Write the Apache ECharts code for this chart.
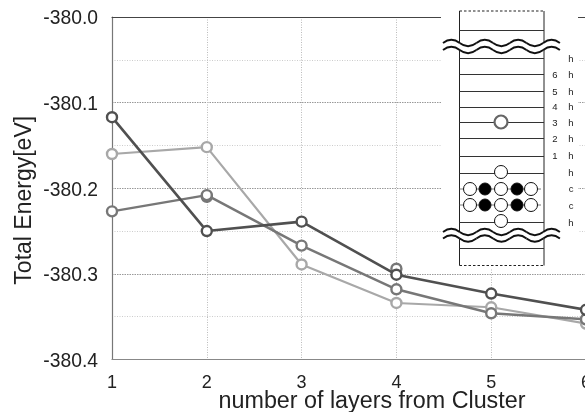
<!DOCTYPE html>
<html><head><meta charset="utf-8">
<style>html,body{margin:0;padding:0;background:#fff;overflow:hidden}#c{width:585px;height:412px}</style>
<script src="https://cdn.jsdelivr.net/npm/echarts@6/dist/echarts.min.js"></script>
</head><body><div id="c"></div>
<script>
const layers = [1, 2, 3, 4, 5, 6];
const darkSeries = [-380.117, -380.250, -380.239, -380.301, -380.323, -380.342];
const mediumSeries = [-380.227, -380.208, -380.267, -380.318, -380.346, -380.353];
const lightSeries = [-380.160, -380.152, -380.289, -380.334, -380.339, -380.358];
const extraPoints = [[2, -380.210], [4, -380.294]];

// Inset: slab diagram
const insetLines = [30, 58, 74, 91, 107, 122, 138, 156, 173, 222, 248];
const insetLayerLabels = [['6', 75], ['5', 92], ['4', 107], ['3', 123], ['2', 139], ['1', 156]];
const insetStacking = [['h', 59], ['h', 75], ['h', 92], ['h', 107], ['h', 123], ['h', 139], ['h', 156], ['h', 173], ['c', 189], ['c', 206], ['h', 223]];
const insetAtoms = [
  [501, 172, 'w'], [470, 189, 'w'], [485, 189, 'k'], [501, 189, 'w'], [517, 189, 'k'], [531, 189, 'w'],
  [470, 205, 'w'], [485, 205, 'k'], [501, 205, 'w'], [517, 205, 'k'], [531, 205, 'w'], [501, 221, 'w']
];

const thin = { stroke: '#222', lineWidth: 1 };
const g = [];
g.push({ type: 'rect', shape: { x: 441, y: 0, width: 137, height: 268 }, style: { fill: '#fff' }, z: 10 });
g.push({ type: 'line', shape: { x1: 459.5, y1: 11, x2: 459.5, y2: 265.5 }, style: thin, z: 11 });
g.push({ type: 'line', shape: { x1: 544, y1: 11, x2: 544, y2: 265.5 }, style: thin, z: 11 });
[11, 265.5].forEach(y => g.push({ type: 'line', shape: { x1: 459.5, y1: y, x2: 544, y2: y }, style: { stroke: '#222', lineWidth: 1.2, lineDash: [2.5, 2] }, z: 11 }));
insetLines.forEach(y => g.push({ type: 'line', shape: { x1: 459.5, y1: y + 0.5, x2: 544, y2: y + 0.5 }, style: { stroke: '#333', lineWidth: 1 }, z: 11 }));
[189, 205].forEach(y => g.push({ type: 'line', shape: { x1: 459.5, y1: y, x2: 541, y2: y }, style: { stroke: '#555', lineWidth: 0.8 }, z: 11 }));
[[43, 50], [232, 238.5]].forEach(([a, b]) => {
  g.push({ type: 'rect', shape: { x: 450, y: a, width: 100, height: b - a }, style: { fill: '#fff' }, z: 12 });
  [a, b].forEach(y => {
    for (let i = 0; i < 7; i++) {
      const x = 443 + i * 16.7;
      const s = i % 2 ? 3.2 : -3.2;
      g.push({ type: 'bezierCurve', shape: { x1: x, y1: y, x2: x + 16.7, y2: y, cpx1: x + 8.35, cpy1: y + s * 2 }, style: { stroke: '#111', lineWidth: 1.9, fill: null }, z: 13 });
    }
  });
});
insetAtoms.forEach(([x, y, k]) => g.push({ type: 'circle', shape: { cx: x, cy: y, r: k === 'k' ? 6 : 6.5 }, style: { fill: k === 'k' ? '#000' : '#fff', stroke: '#111', lineWidth: 1 }, z: 14 }));
g.push({ type: 'circle', shape: { cx: 501, cy: 122, r: 6.5 }, style: { fill: '#fff', stroke: '#666', lineWidth: 2.2 }, z: 14 });
insetLayerLabels.forEach(([t, y]) => g.push({ type: 'text', x: 555, y: y, style: { text: t, font: '9.5px "Liberation Sans"', fill: '#222', align: 'center', verticalAlign: 'middle' }, z: 14 }));
insetStacking.forEach(([t, y]) => g.push({ type: 'text', x: 571, y: y, style: { text: t, font: '9.5px "Liberation Sans"', fill: '#222', align: 'center', verticalAlign: 'middle' }, z: 14 }));

function lineSeries(vals, color, w) {
  return {
    type: 'line', data: layers.map((x, i) => [x, vals[i]]), clip: false, symbol: 'circle', symbolSize: 10,
    lineStyle: { color: color, width: w }, itemStyle: { color: '#fff', borderColor: color, borderWidth: 2.4 }, z: 5
  };
}
const chart = echarts.init(document.getElementById('c'), null, { renderer: 'canvas' });
chart.setOption({
  animation: false,
  backgroundColor: '#fff',
  grid: { left: 112, top: 17, width: 474, height: 342.5, containLabel: false, outerBoundsMode: 'none' },
  xAxis: [{
    type: 'value', min: 1, max: 6, interval: 1, position: 'bottom',
    name: 'number of layers from Cluster', nameLocation: 'middle', nameGap: 31, nameMoveOverlap: false,
    nameTextStyle: { fontFamily: 'Liberation Sans', fontSize: 23.3, color: '#222', padding: [0, 0, 0, 46] },
    axisLine: { show: true, lineStyle: { color: '#888', width: 1.2 } }, axisTick: { show: false },
    axisLabel: { fontFamily: 'Liberation Sans', fontSize: 18, color: '#222', margin: 15, showMaxLabel: true, hideOverlap: false },
    splitLine: { show: true, lineStyle: { color: '#bbb', type: [1, 1.5], width: 1 } }
  }, {
    type: 'value', min: 1, max: 6, position: 'top',
    axisLine: { show: true, lineStyle: { color: '#444', width: 1 } }, axisTick: { show: false },
    axisLabel: { show: false }, splitLine: { show: false }
  }],
  yAxis: {
    type: 'value', min: -380.4, max: -380.0, interval: 0.1,
    name: 'Total Energy[eV]', nameLocation: 'middle', nameGap: 76, nameRotate: 90, nameMoveOverlap: false,
    nameTextStyle: { fontFamily: 'Liberation Sans', fontSize: 23, color: '#222', padding: [0, 24, 0, 0] },
    axisLine: { show: true, lineStyle: { color: '#777', width: 1.2 } }, axisTick: { show: false },
    axisLabel: { fontFamily: 'Liberation Sans', fontSize: 19.3, color: '#222', margin: 14, verticalAlign: 'top', lineHeight: 4, formatter: v => v.toFixed(1) },
    splitLine: { show: true, lineStyle: { color: '#999', type: [1.5, 1], width: 1 } },
    minorTick: { show: false, splitNumber: 2 },
    minorSplitLine: { show: true, lineStyle: { color: '#ccc', type: [1, 1.5], width: 1 } }
  },
  series: [
    { type: 'scatter', data: extraPoints, symbol: 'circle', symbolSize: 10, clip: false, itemStyle: { color: '#fff', borderColor: '#555', borderWidth: 2.4 }, z: 4 },
    lineSeries(lightSeries, '#a8a8a8', 2.2),
    lineSeries(mediumSeries, '#777', 2.4),
    lineSeries(darkSeries, '#505050', 2.6)
  ],
  graphic: g
});
</script></body></html>
